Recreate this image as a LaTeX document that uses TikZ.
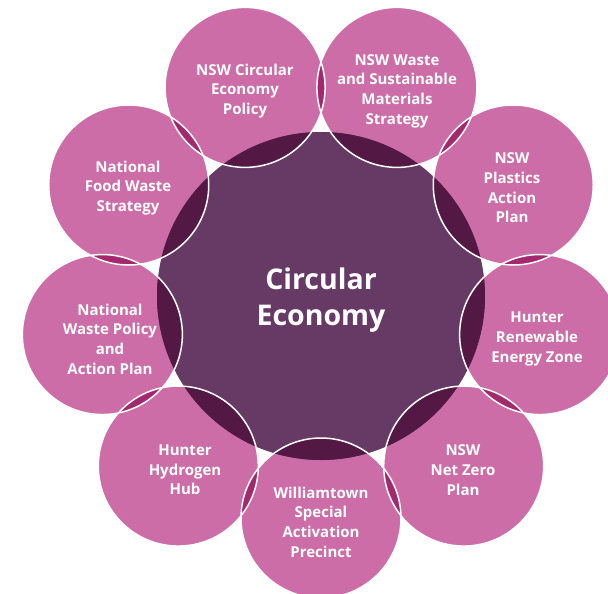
\documentclass[tikz,border=0pt]{standalone}
\usepackage{fontspec}
\setmainfont{Open Sans}
\definecolor{pinkc}{HTML}{CC6DA8}
\definecolor{lensc}{HTML}{A2296D}
\definecolor{darkc}{HTML}{531944}
\definecolor{lightc}{HTML}{673A65}
\tikzset{
  lbl/.style={text=white, align=center, font=\bfseries\fontsize{15}{19.7}\selectfont, inner sep=0pt},
  ttl/.style={text=white, align=center, font=\bfseries\fontsize{28.5}{36}\selectfont, inner sep=0pt},
  ring/.style={draw=white, line width=1.5pt}
}
\begin{document}
\begin{tikzpicture}[x=1pt,y=-1pt]
\useasboundingbox (0,0) rectangle (608,594);
\coordinate (C) at (321,296);
\foreach \i/\a in {1/-110,2/-70,3/-30,4/10,5/50,6/90,7/130,8/170,9/210}
  \path (C) ++(\a:222) coordinate (o\i);
% pink outer circles
\foreach \i in {1,...,9} \fill[pinkc] (o\i) circle (80);
% lenses between neighbours
\foreach \i/\j in {1/2,2/3,3/4,4/5,5/6,6/7,7/8,8/9,9/1}{
  \begin{scope}
    \clip (o\i) circle (80);
    \fill[lensc] (o\j) circle (80);
  \end{scope}
}
% central circle
\fill[lightc] (C) circle (164);
\begin{scope}
  \clip (C) circle (164);
  \foreach \i in {1,...,9} \fill[darkc] (o\i) circle (80);
\end{scope}
% white outlines
\foreach \i in {1,...,9} \draw[ring] (o\i) circle (80);
% texts
\node[ttl] (ce) at (321,300) {Circular\\Economy};
\node[lbl] (t1) at (245,91) {NSW Circular\\Economy\\Policy};
\node[lbl] (t2) at (397,91) {NSW Waste\\and Sustainable\\Materials\\Strategy};
\node[lbl] (t3) at (512,188) {NSW\\Plastics\\Action\\Plan};
\node[lbl] (t4) at (537,339) {Hunter\\Renewable\\Energy Zone};
\node[lbl] (t5) at (463,470) {NSW\\Net Zero\\Plan};
\node[lbl] (t6) at (321,522) {Williamtown\\Special\\Activation\\Precinct};
\node[lbl] (t7) at (185,470) {Hunter\\Hydrogen\\Hub};
\node[lbl] (t8) at (110,339) {National\\Waste Policy\\and\\Action Plan};
\node[lbl] (t9) at (128,188) {National\\Food Waste\\Strategy};
\end{tikzpicture}
\end{document}
